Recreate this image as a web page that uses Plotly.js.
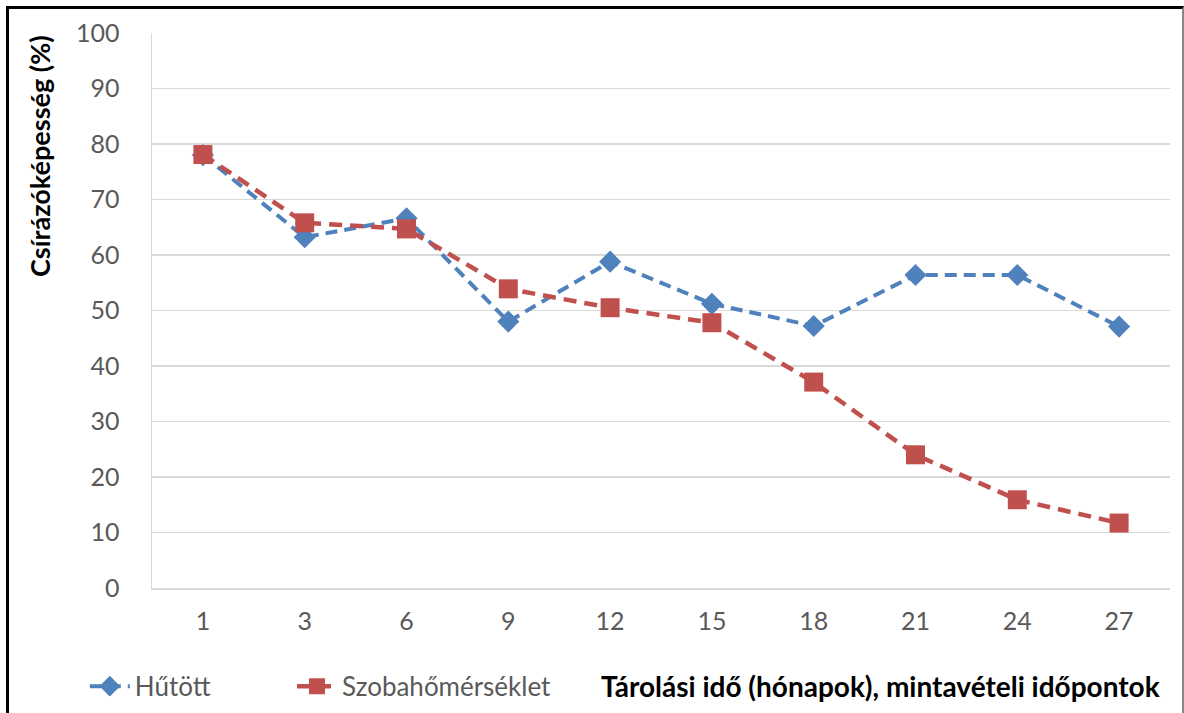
<!DOCTYPE html>
<html><head><meta charset="utf-8">
<script src="https://cdn.plot.ly/plotly-3.0.1.min.js"></script>
<style>
html,body{margin:0;padding:0;background:#fff;}
#wrap{position:relative;width:1184px;height:713px;}
#chart{position:absolute;left:0;top:0;width:1184px;height:713px;}
#frame{position:absolute;left:6px;top:6px;width:1173px;height:720px;border-left:3px solid #000;border-top:3px solid #000;border-right:2px solid #888;pointer-events:none;}
</style></head>
<body>
<div id="wrap"><div id="chart"></div><div id="frame"></div></div>
<script>
const categories = ["1","3","6","9","12","15","18","21","24","27"];
const hutott = [78, 63.2, 66.6, 48, 58.8, 51.2, 47.2, 56.4, 56.4, 47.1];
const szoba = [78.1, 65.8, 64.7, 53.9, 50.5, 47.8, 37.1, 24.0, 15.9, 11.7];
const seriesNames = ["Hűtött", "Szobahőmérséklet"];
const yTicks = [0,10,20,30,40,50,60,70,80,90,100];

const font = "Lato, 'Open Sans', sans-serif";
const traces = [
  {x: categories, y: hutott, name: seriesNames[0], type: "scatter", mode: "lines+markers",
   legend: "legend",
   line: {color: "#4f81bd", width: 4, dash: "12px,7px"},
   marker: {symbol: "diamond", size: 17, color: "#4f81bd"}},
  {x: categories, y: szoba, name: seriesNames[1], type: "scatter", mode: "lines+markers",
   legend: "legend2",
   line: {color: "#c0504d", width: 4.5, dash: "13px,8px"},
   marker: {symbol: "square", size: 19, color: "#c0504d"}}
];
const legendBase = {orientation: "h", xanchor: "left", y: -0.177, yanchor: "middle",
  font: {family: font, size: 26, color: "#595959"}, itemwidth: 40, bgcolor: "rgba(0,0,0,0)"};
const layout = {
  width: 1184, height: 713,
  margin: {l: 152, r: 14, t: 33, b: 125, autoexpand: false},
  paper_bgcolor: "#fff", plot_bgcolor: "#fff",
  font: {family: font, size: 25, color: "#595959"},
  showlegend: true,
  legend: Object.assign({}, legendBase, {x: -0.066}),
  legend2: Object.assign({}, legendBase, {x: 0.1375}),
  xaxis: {type: "category", range: [-0.5, 9.5], showgrid: false, zeroline: false,
          showline: true, linecolor: "#d9d9d9", linewidth: 1.5, ticks: "",
          tickfont: {family: font, size: 25, color: "#595959"}, ticklabelstandoff: 10},
  yaxis: {range: [0, 100], tickvals: yTicks, showgrid: true, gridcolor: "#d9d9d9", gridwidth: 1.5,
          zeroline: false, showline: true, linecolor: "#d9d9d9", linewidth: 1.5, ticks: "",
          tickfont: {family: font, size: 25, color: "#595959"}, ticklabelstandoff: 26},
  annotations: [
    {text: "<b>Csírázóképesség (%)</b>", xref: "paper", yref: "paper", x: -0.111, y: 1.0,
     xanchor: "center", yanchor: "top", textangle: -90, showarrow: false,
     font: {family: font, size: 27, color: "#000"}},
    {text: "<b>Tárolási idő (hónapok), mintavételi időpontok</b>", xref: "paper", yref: "paper",
     x: 0.716, y: -0.177, xanchor: "center", yanchor: "middle", showarrow: false,
     font: {family: font, size: 28, color: "#000"}}
  ]
};
Plotly.newPlot("chart", traces, layout, {displayModeBar: false, staticPlot: true});
</script>
</body></html>
